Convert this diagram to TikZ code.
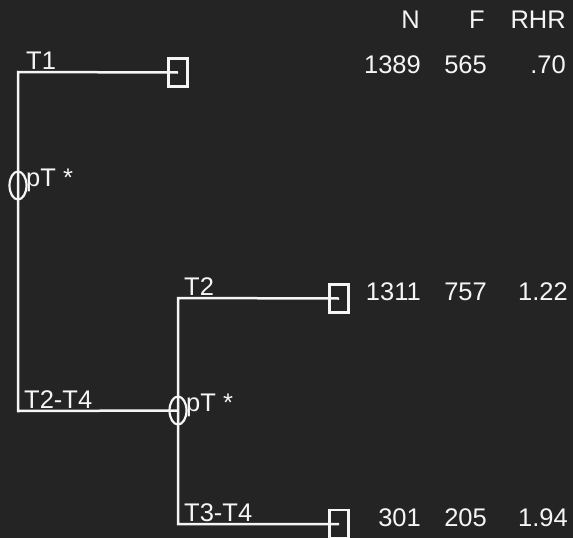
\documentclass[tikz,border=0pt]{standalone}
\usepackage{fontspec}
\setmainfont{Liberation Sans}
\usetikzlibrary{shapes.geometric}
\definecolor{bg}{RGB}{36,36,36}
\definecolor{ink}{RGB}{245,245,245}
\begin{document}
\begin{tikzpicture}[x=1pt,y=-1pt,
  branch/.style={draw=ink,line width=2.5pt},
  leafbox/.style={draw=ink,line width=2.2pt,rectangle,minimum width=19pt,minimum height=28pt,inner sep=0pt},
  splitnode/.style={draw=ink,line width=2.2pt,ellipse,minimum width=17pt,minimum height=28pt,inner sep=0pt},
  lbl/.style={text=ink,font=\fontsize{25.5}{28}\selectfont,inner sep=0pt,anchor=base west},
  num/.style={text=ink,font=\fontsize{25.5}{28}\selectfont,inner sep=0pt,anchor=base east}]
\fill[bg] (0,0) rectangle (573,538);
\useasboundingbox (0,0) rectangle (573,538);

% tree joints
\coordinate (c1) at (18,72);
\coordinate (c2) at (18,411);
\coordinate (c3) at (178,298);
\coordinate (c4) at (178,524);

% leaves and splits
\node[leafbox] (b1) at (178,72.5) {};
\node[leafbox] (b2) at (339,298.5) {};
\node[leafbox] (b3) at (339,524) {};
\node[splitnode] (s1) at (18,185.5) {};
\node[splitnode] (s2) at (178,410.5) {};

% branches
\draw[branch] (b1.center) -- (c1) -- (c2) -- (s2.center);
\draw[branch] (b2.center) -- (c3) -- (c4) -- (b3.center);

% branch labels
\node[lbl] (l1) at (26,69) {T1};
\node[lbl] (p1) at (26,186) {pT *};
\node[lbl] (l2) at (184,295) {T2};
\node[lbl] (l3) at (24,408) {T2-T4};
\node[lbl] (p2) at (186,411) {pT *};
\node[lbl] (l4) at (184,521) {T3-T4};

% table
\node[num] (hN) at (420,28) {N};
\node[num] (hF) at (485,28) {F};
\node[num] (hR) at (566,28) {RHR};
\node[num] (n1) at (421,73) {1389};
\node[num] (f1) at (487,73) {565};
\node[num] (r1) at (566,73) {.70};
\node[num] (n2) at (421,300) {1311};
\node[num] (f2) at (487,300) {757};
\node[num] (r2) at (568,300) {1.22};
\node[num] (n3) at (421,526) {301};
\node[num] (f3) at (487,526) {205};
\node[num] (r3) at (568,526) {1.94};
\end{tikzpicture}
\end{document}
